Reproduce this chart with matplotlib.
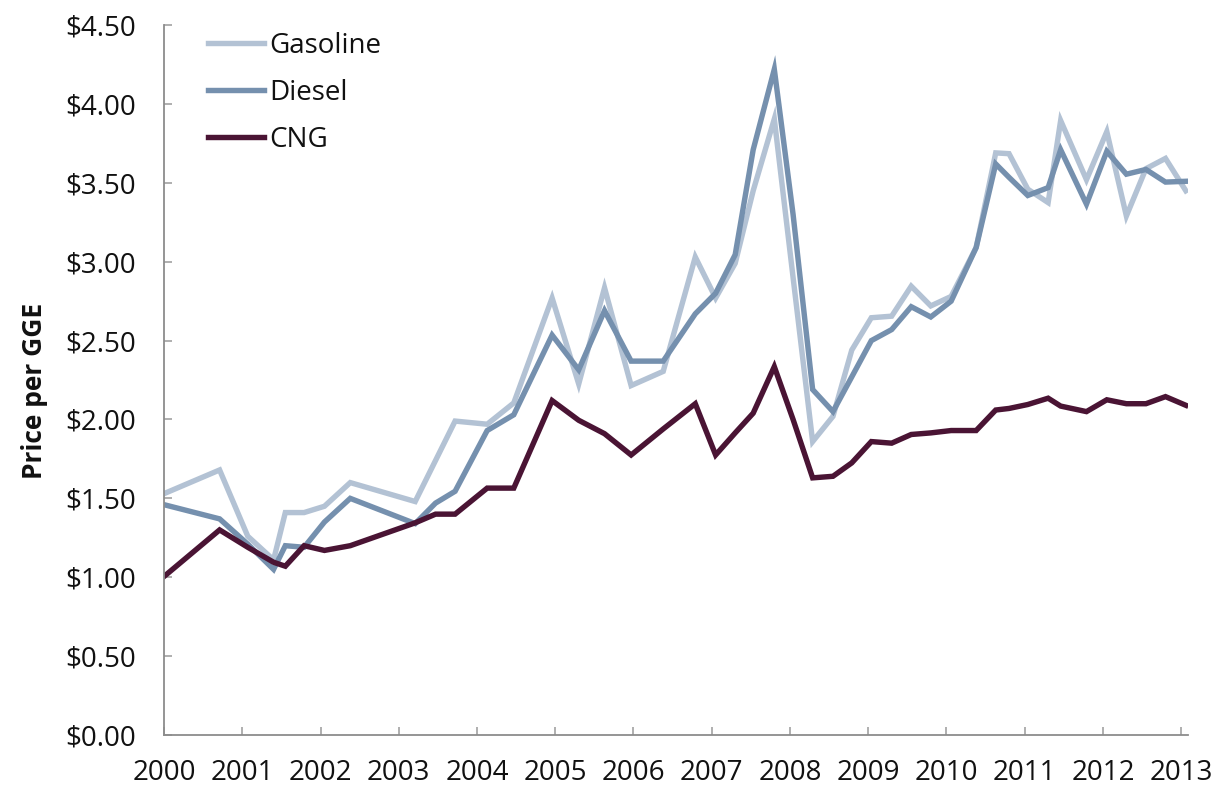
import matplotlib
matplotlib.use("Agg")
import matplotlib.pyplot as plt

plt.rcParams['font.family'] = ['Open Sans', 'DejaVu Sans']

dates = [2000.00, 2000.71, 2001.07, 2001.40, 2001.55, 2001.79, 2002.05, 2002.38,
         2003.21, 2003.47, 2003.72, 2004.13, 2004.47, 2004.96, 2005.30, 2005.63,
         2005.97, 2006.38, 2006.79, 2007.05, 2007.30, 2007.53, 2007.80, 2008.04,
         2008.29, 2008.55, 2008.79, 2009.04, 2009.30, 2009.55, 2009.80, 2010.06,
         2010.38, 2010.63, 2010.80, 2011.04, 2011.30, 2011.46, 2011.79, 2012.05,
         2012.30, 2012.55, 2012.80, 2013.06]

gasoline = [1.53, 1.68, 1.26, 1.11, 1.41, 1.41, 1.45, 1.60,
            1.48, 1.74, 1.99, 1.97, 2.105, 2.77, 2.225, 2.835,
            2.215, 2.305, 3.03, 2.77, 2.99, 3.45, 3.905, 2.90,
            1.86, 2.02, 2.44, 2.645, 2.655, 2.845, 2.72, 2.78,
            3.09, 3.69, 3.685, 3.46, 3.375, 3.895, 3.52, 3.825,
            3.29, 3.59, 3.655, 3.45]

diesel = [1.46, 1.37, 1.21, 1.05, 1.20, 1.19, 1.35, 1.50,
          1.34, 1.47, 1.545, 1.93, 2.03, 2.535, 2.315, 2.69,
          2.37, 2.37, 2.67, 2.80, 3.045, 3.71, 4.22, 3.30,
          2.19, 2.05, 2.27, 2.50, 2.57, 2.715, 2.65, 2.75,
          3.09, 3.62, 3.535, 3.42, 3.47, 3.71, 3.365, 3.70,
          3.555, 3.585, 3.505, 3.51]

cng = [1.005, 1.30, 1.19, 1.095, 1.07, 1.20, 1.17, 1.20,
       1.345, 1.40, 1.40, 1.565, 1.565, 2.12, 1.995, 1.91,
       1.775, 1.94, 2.10, 1.775, 1.915, 2.04, 2.335, 2.00,
       1.63, 1.64, 1.725, 1.86, 1.85, 1.905, 1.915, 1.93,
       1.93, 2.06, 2.07, 2.095, 2.135, 2.085, 2.05, 2.125,
       2.10, 2.10, 2.145, 2.09]

years = list(range(2000, 2014))
yticks = [0, 0.5, 1.0, 1.5, 2.0, 2.5, 3.0, 3.5, 4.0, 4.5]

fig = plt.figure(figsize=(12.17, 7.85), dpi=100)
ax = fig.add_axes([0.1348, 0.0637, 0.976 - 0.1348, 0.968 - 0.0637])

lw = 3.9
ax.plot(dates, gasoline, color='#b3c2d4', lw=lw, label='Gasoline', solid_joinstyle='miter')
ax.plot(dates, diesel, color='#7590ae', lw=lw, label='Diesel', solid_joinstyle='miter')
ax.plot(dates, cng, color='#4a1434', lw=lw, label='CNG', solid_joinstyle='miter')

ax.set_xlim(2000, 2013.085)
ax.set_ylim(0, 4.5)
ax.set_xticks(years)
ax.set_xticklabels([str(y) for y in years])
ax.set_yticks(yticks)
ax.set_yticklabels([f'${v:.2f}' for v in yticks])

for s in ['top', 'right']:
    ax.spines[s].set_visible(False)
for s in ['left', 'bottom']:
    ax.spines[s].set_color('#8c8c8c')
    ax.spines[s].set_linewidth(1.3)

ax.tick_params(axis='both', direction='in', length=6, width=1.1, color='#9a9a9a',
               labelsize=20, labelcolor='#111111')
ax.tick_params(axis='y', pad=20)
ax.tick_params(axis='x', pad=17)

ax.set_ylabel('Price per GGE', fontsize=19, fontweight='bold', color='#111111')
ax.yaxis.set_label_coords(-0.113, 0.485)

leg = ax.legend(loc='upper left', bbox_to_anchor=(208 / 1217, 1 - 32 / 785),
                bbox_transform=fig.transFigure, frameon=False, fontsize=20,
                handlelength=2.0, handletextpad=0.2, labelspacing=0.68,
                borderaxespad=0, borderpad=0)
for t in leg.get_texts():
    t.set_color('#111111')

fig.savefig('out.png', dpi=100)
